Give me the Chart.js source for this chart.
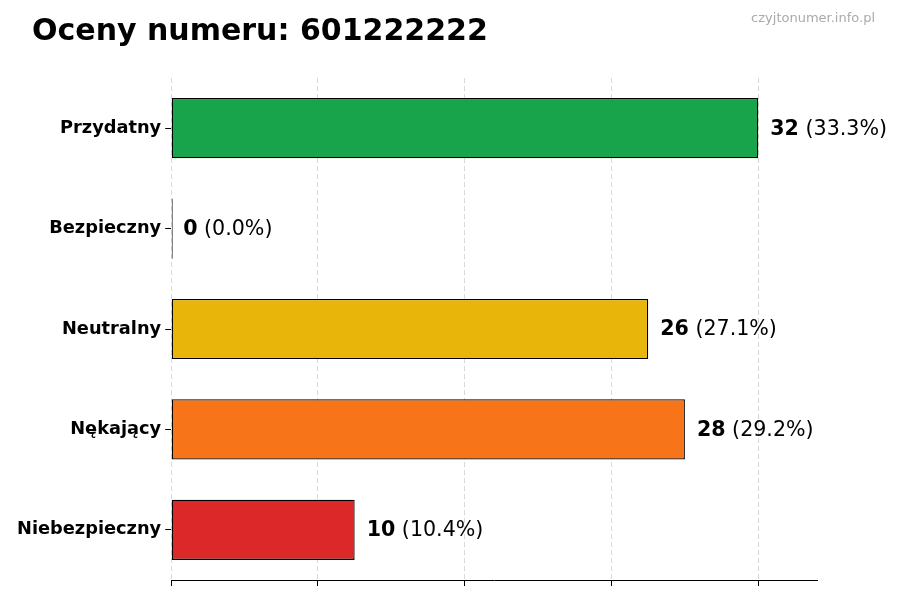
<!DOCTYPE html>
<html>
<head>
<meta charset="utf-8">
<script src="https://cdn.jsdelivr.net/npm/chart.js@4"></script>
<style>
  html, body { margin: 0; padding: 0; background: #fff; }
  #wrap { width: 900px; height: 600px; position: relative; }
</style>
</head>
<body>
<div id="wrap"><canvas id="graf_oceny"></canvas></div>
<script>
var categories = ['Przydatny', 'Bezpieczny', 'Neutralny', 'Nękający', 'Niebezpieczny'];
var counts = [32, 0, 26, 28, 10];
var percents = ['33.3%', '0.0%', '27.1%', '29.2%', '10.4%'];
var colors = ['#17a44a', '#111111', '#e8b50a', '#f77419', '#dc2828'];
var xTicks = [0, 8, 16, 24, 32];
var titleText = 'Oceny numeru: 601222222';
var sourceText = 'czyjtonumer.info.pl';

var FONT = "'DejaVu Sans', sans-serif";

// title + watermark + value labels
var textPlugin = {
	id: 'texts',
	afterDatasetsDraw: function(chart) {
		var ctx = chart.ctx;
		ctx.save();
		ctx.fillStyle = '#000';
		ctx.textBaseline = 'alphabetic';
		ctx.textAlign = 'left';
		ctx.font = 'bold 30px ' + FONT;
		ctx.fillText(titleText, 32, 40);

		ctx.fillStyle = '#aaaaaa';
		ctx.font = '13px ' + FONT;
		ctx.textAlign = 'right';
		ctx.fillText(sourceText, 875, 22);

		var meta = chart.getDatasetMeta(0);
		var xs = chart.scales.x;
		ctx.textAlign = 'left';
		ctx.textBaseline = 'middle';
		meta.data.forEach(function(bar, i) {
			var x = xs.getPixelForValue(counts[i]) + 12;
			var y = bar.y + 1;
			ctx.fillStyle = '#000';
			ctx.font = 'bold 20.6px ' + FONT;
			var num = String(counts[i]);
			ctx.fillText(num, x, y);
			var w = ctx.measureText(num).width;
			ctx.font = '20.6px ' + FONT;
			ctx.fillText(' (' + percents[i] + ')', x + w, y);
		});
		ctx.restore();
	}
};

var chartdata = {
	labels: categories,
	datasets: [
		{
			data: counts,
			backgroundColor: colors,
			borderColor: '#000',
			borderWidth: 1.3,
			borderSkipped: false,
			barPercentage: 0.6,
			categoryPercentage: 1.0,
			minBarLength: 1.5
		}
	]
};

var ctx = document.getElementById('graf_oceny');

var barGraph = new Chart(ctx, {
	type: 'bar',
	data: chartdata,
	plugins: [textPlugin],
	options: {
		indexAxis: 'y',
		responsive: true,
		maintainAspectRatio: false,
		animation: false,
		layout: { padding: { top: 78, right: 83, bottom: 14, left: 13 } },
		plugins: {
			legend: { display: false },
			tooltip: { enabled: false },
			title: { display: false }
		},
		scales: {
			x: {
				min: 0,
				max: 35.2,
				afterBuildTicks: function(axis) {
					axis.ticks = xTicks.map(function(v) { return { value: v }; });
				},
				ticks: { display: false },
				grid: {
					color: 'rgba(0,0,0,0.15)',
					lineWidth: 1,
					tickColor: '#000',
					tickLength: 6,
					tickBorderDash: []
				},
				border: { display: true, color: '#000', width: 1, dash: [5, 3] }
			},
			y: {
				grid: {
					offset: false,
					drawOnChartArea: false,
					tickColor: '#000',
					tickLength: 6
				},
				border: { display: false },
				ticks: {
					color: '#000',
					padding: 4,
					font: { family: FONT, size: 17.8, weight: 'bold' }
				}
			}
		}
	}
});
</script>
</body>
</html>
